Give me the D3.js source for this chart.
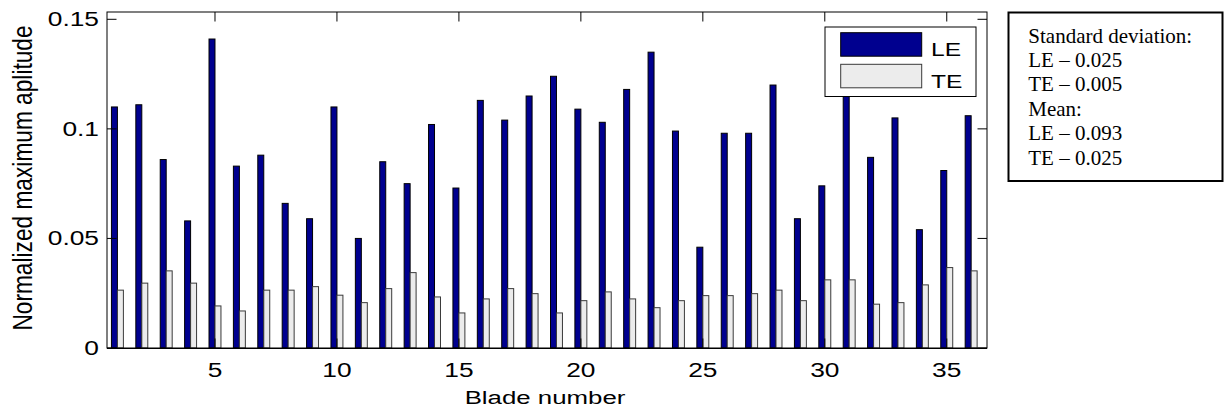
<!DOCTYPE html>
<html>
<head>
<meta charset="utf-8">
<script src="https://cdn.jsdelivr.net/npm/d3@7"></script>
<style>
  html, body { margin: 0; padding: 0; background: #fff; }
  svg { display: block; }
</style>
</head>
<body>
<svg id="chart" width="1226" height="410"></svg>
<script>
// ---- data ----
const blades = d3.range(1, 37);
const leValues = [0.110, 0.111, 0.086, 0.058, 0.141, 0.083, 0.088, 0.066, 0.059, 0.110,
                  0.050, 0.085, 0.075, 0.102, 0.073, 0.113, 0.104, 0.115, 0.124, 0.109,
                  0.103, 0.118, 0.135, 0.099, 0.046, 0.098, 0.098, 0.120, 0.059, 0.074,
                  0.118, 0.087, 0.105, 0.054, 0.081, 0.106];
const teValues = [0.0264, 0.0296, 0.0352, 0.0296, 0.0192, 0.0169, 0.0264, 0.0264, 0.0280, 0.0241,
                  0.0207, 0.0271, 0.0344, 0.0233, 0.0160, 0.0224, 0.0271, 0.0248, 0.0160, 0.0216,
                  0.0256, 0.0224, 0.0184, 0.0216, 0.0239, 0.0239, 0.0248, 0.0264, 0.0216, 0.0311,
                  0.0311, 0.0200, 0.0207, 0.0288, 0.0367, 0.0352];
const xTicks = [5, 10, 15, 20, 25, 30, 35];
const yTicks = [0, 0.05, 0.1, 0.15];
const yTickLabels = ["0", "0.05", "0.1", "0.15"];
const seriesNames = ["LE", "TE"];
const noteLines = ["Standard deviation:", "LE \u2013 0.025", "TE \u2013 0.005",
                   "Mean:", "LE \u2013 0.093", "TE \u2013 0.025"];

// ---- layout ----
const L = 107, R = 987, T = 12, B = 348;
const svg = d3.select("#chart");
const x = d3.scaleLinear().domain([0.573, 36.65]).range([L, R]);
const y = d3.scaleLinear().domain([0, 0.15333]).range([B, T]);
const barW = 0.245;
const sans = "'Liberation Sans', Arial, Helvetica, sans-serif";
const serif = "'Liberation Serif', 'Times New Roman', serif";
const colLE = "#00008f", colTE = "#ececec";

// bars
svg.append("g").selectAll("rect.le").data(blades).join("rect")
  .attr("x", d => x(d - barW))
  .attr("y", (d, i) => y(leValues[i]))
  .attr("width", x(barW) - x(0))
  .attr("height", (d, i) => y(0) - y(leValues[i]))
  .attr("fill", colLE).attr("stroke", "#000").attr("stroke-width", 1);
svg.append("g").selectAll("rect.te").data(blades).join("rect")
  .attr("x", d => x(d))
  .attr("y", (d, i) => y(teValues[i]))
  .attr("width", x(barW) - x(0))
  .attr("height", (d, i) => y(0) - y(teValues[i]))
  .attr("fill", colTE).attr("stroke", "#3a3a3a").attr("stroke-width", 1);

// frame
svg.append("rect").attr("x", L).attr("y", T).attr("width", R - L).attr("height", B - T)
  .attr("fill", "none").attr("stroke", "#000").attr("stroke-width", 1);
svg.append("line").attr("x1", L).attr("x2", R).attr("y1", y(0) + 0.5).attr("y2", y(0) + 0.5)
  .attr("stroke", "#000").attr("stroke-width", 1.2);

const tl = 9.5;
const tg = svg.append("g").attr("stroke", "#000").attr("stroke-width", 1);
xTicks.forEach(v => {
  tg.append("line").attr("x1", x(v)).attr("x2", x(v)).attr("y1", T).attr("y2", T + tl);
  tg.append("line").attr("x1", x(v)).attr("x2", x(v)).attr("y1", B).attr("y2", B - tl);
});
yTicks.forEach(v => {
  tg.append("line").attr("x1", L).attr("x2", L + tl).attr("y1", y(v)).attr("y2", y(v));
  tg.append("line").attr("x1", R).attr("x2", R - tl).attr("y1", y(v)).attr("y2", y(v));
});

// tick labels (source image is horizontally stretched)
const sx = 1.35;
svg.append("g").selectAll("text").data(yTicks).join("text")
  .attr("transform", d => `translate(99,${y(d) + 7}) scale(${sx},1)`)
  .attr("text-anchor", "end").attr("font-family", sans).attr("font-size", 19.5)
  .text((d, i) => yTickLabels[i]);
svg.append("g").selectAll("text").data(xTicks).join("text")
  .attr("transform", d => `translate(${x(d)},376.5) scale(${sx},1)`)
  .attr("text-anchor", "middle").attr("font-family", sans).attr("font-size", 19.5)
  .text(d => d);

// axis labels
svg.append("text").attr("transform", `translate(545,404) scale(1.36,1)`)
  .attr("text-anchor", "middle").attr("font-family", sans).attr("font-size", 19)
  .text("Blade number");
svg.append("text").attr("transform", `translate(31.5,178) scale(1.22,1) rotate(-90)`)
  .attr("text-anchor", "middle").attr("font-family", sans).attr("font-size", 22.7)
  .text("Normalized maximum aplitude");

// legend
const lg = svg.append("g");
lg.append("rect").attr("x", 825).attr("y", 27).attr("width", 151).attr("height", 69.5)
  .attr("fill", "#fff").attr("stroke", "#000").attr("stroke-width", 1);
const legY = [32.7, 64.3];
seriesNames.forEach((name, i) => {
  lg.append("rect").attr("x", 840.7).attr("y", legY[i]).attr("width", 81).attr("height", 23.5)
    .attr("fill", i === 0 ? colLE : colTE).attr("stroke", i === 0 ? "#000" : "#3a3a3a");
  lg.append("text").attr("transform", `translate(931,${legY[i] + 23.5}) scale(1.38,1)`)
    .attr("font-family", sans).attr("font-size", 17.8).text(name);
});

// note box
svg.append("rect").attr("x", 1008.5).attr("y", 12.5).attr("width", 214).attr("height", 168.5)
  .attr("fill", "#fff").attr("stroke", "#000").attr("stroke-width", 2);
svg.append("g").selectAll("text").data(noteLines).join("text")
  .attr("x", 1028.3).attr("y", (d, i) => 42.5 + i * 24.4)
  .attr("font-family", serif).attr("font-size", 21).text(d => d);
</script>
</body>
</html>
